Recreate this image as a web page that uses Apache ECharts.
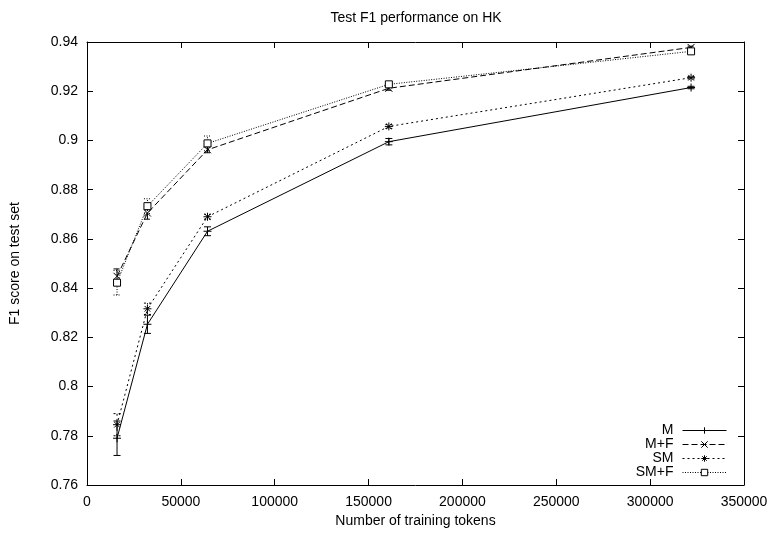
<!DOCTYPE html>
<html>
<head>
<meta charset="utf-8">
<script src="https://cdn.jsdelivr.net/npm/echarts@6/dist/echarts.min.js"></script>
<style>
html,body{margin:0;padding:0;background:#fff;}
#chart{width:772px;height:533px;}
</style>
</head>
<body>
<div id="chart"></div>
<script>
// ---- data ----
const xTokens   = [16000, 32200, 64200, 160800, 321800];
const xTicks    = [0, 50000, 100000, 150000, 200000, 250000, 300000, 350000];
const yTicks    = [0.76, 0.78, 0.8, 0.82, 0.84, 0.86, 0.88, 0.9, 0.92, 0.94];

const mScores   = [0.7790, 0.8253, 0.8631, 0.8995, 0.9215];
const mErr      = [0.0070, 0.0037, 0.0018, 0.0013, 0.0005];
const mfScores  = [0.8448, 0.8705, 0.8962, 0.9212, 0.9378];
const mfErr     = [0.0030, 0.0025, 0.0012, 0.0008, 0.0005];
const smScores  = [0.7845, 0.8316, 0.8690, 0.9057, 0.9255];
const smErr     = [0.0045, 0.0023, 0.0010, 0.0008, 0.0005];
const smfScores = [0.8422, 0.8733, 0.8988, 0.9228, 0.9362];
const smfErr    = [0.0050, 0.0030, 0.0030, 0.0010, 0.0008];

const seriesNames = ['M', 'M+F', 'SM', 'SM+F'];

// ---- styles ----
const FONT = 'Liberation Sans, Arial, Helvetica, sans-serif';
const dashes = {
  'M': null,
  'M+F': [6, 3],
  'SM': [2, 3],
  'SM+F': [1, 1.5]
};
const symbols = {
  'M': ['path://M0,5L10,5M5,0L5,10', 8, '#000'],
  'M+F': ['path://M0,0L10,10M10,0L0,10', 7, '#000'],
  'SM': ['path://M0,5L10,5M5,0L5,10M1.5,1.5L8.5,8.5M8.5,1.5L1.5,8.5', 8, '#000'],
  'SM+F': ['path://M0,0L10,0L10,10L0,10Z', 7, '#fff']
};

function lineSeries(name, ys) {
  return {
    type: 'line',
    name: name,
    data: xTokens.map((x, i) => [x, ys[i]]),
    symbol: symbols[name][0],
    symbolSize: symbols[name][1],
    showAllSymbol: true,
    lineStyle: { color: '#000', width: 1, type: dashes[name] || 'solid' },
    itemStyle: { color: symbols[name][2], borderColor: '#000', borderWidth: 1 },
    emphasis: { disabled: true },
    animation: false,
    z: 3
  };
}

function errSeries(name, ys, errs) {
  const dash = dashes[name];
  return {
    type: 'custom',
    name: name + ' error',
    data: xTokens.map((x, i) => [x, ys[i], errs[i]]),
    encode: { x: 0, y: 1 },
    silent: true,
    animation: false,
    z: 2,
    renderItem: function (params, api) {
      const x = api.value(0), y = api.value(1), e = api.value(2);
      const lo = api.coord([x, y - e]);
      const hi = api.coord([x, y + e]);
      const w = 3.5;
      const st = { stroke: '#000', lineWidth: 1, lineDash: dash || null, fill: null };
      return {
        type: 'group',
        children: [
          { type: 'line', shape: { x1: lo[0], y1: lo[1], x2: hi[0], y2: hi[1] }, style: st },
          { type: 'line', shape: { x1: lo[0] - w, y1: lo[1], x2: lo[0] + w, y2: lo[1] }, style: st },
          { type: 'line', shape: { x1: hi[0] - w, y1: hi[1], x2: hi[0] + w, y2: hi[1] }, style: st }
        ]
      };
    }
  };
}

const axisLine = { show: true, onZero: false, lineStyle: { color: '#000', width: 1 } };
const axisTick = { show: true, inside: true, length: 6, lineStyle: { color: '#000', width: 1 } };
const labelStyle = { color: '#000', fontSize: 14, fontFamily: FONT };

const xMin = xTicks[0], xMax = xTicks[xTicks.length - 1], xInt = xTicks[1] - xTicks[0];
const yMin = yTicks[0], yMax = yTicks[yTicks.length - 1], yInt = 0.02;

const chart = echarts.init(document.getElementById('chart'), null, { renderer: 'canvas' });
chart.setOption({
  backgroundColor: '#fff',
  animation: false,
  title: {
    text: 'Test F1 performance on HK',
    left: 416, top: 11, padding: 0,
    textAlign: 'center',
    textStyle: { color: '#000', fontSize: 14, fontWeight: 'normal', fontFamily: FONT }
  },
  grid: { left: 87, right: 28, top: 42, bottom: 44, containLabel: false },
  legend: {
    data: seriesNames,
    orient: 'vertical',
    align: 'right',
    right: 45,
    top: 423.5,
    itemWidth: 44,
    itemHeight: 8,
    itemGap: 0,
    padding: 0,
    selectedMode: false,
    lineStyle: { width: 1 },
    itemStyle: { borderWidth: 1 },
    textStyle: { color: '#000', fontSize: 14, fontFamily: FONT, lineHeight: 14, padding: [0, 4, 0, 0] }
  },
  xAxis: [
    {
      type: 'value', position: 'bottom', min: xMin, max: xMax, interval: xInt,
      name: 'Number of training tokens', nameLocation: 'middle', nameGap: 29,
      nameTextStyle: labelStyle,
      axisLine: axisLine, axisTick: axisTick,
      axisLabel: Object.assign({ margin: 10, formatter: v => String(v) }, labelStyle),
      splitLine: { show: false }
    },
    {
      type: 'value', position: 'top', min: xMin, max: xMax, interval: xInt,
      axisLine: axisLine, axisTick: axisTick,
      axisLabel: { show: false }, splitLine: { show: false }
    }
  ],
  yAxis: [
    {
      type: 'value', position: 'left', min: yMin, max: yMax, interval: yInt,
      name: 'F1 score on test set', nameLocation: 'middle', nameGap: 65, nameRotate: 90,
      nameTextStyle: labelStyle,
      axisLine: axisLine, axisTick: axisTick,
      axisLabel: Object.assign({ margin: 9, formatter: v => String(+v.toFixed(2)) }, labelStyle),
      splitLine: { show: false }
    },
    {
      type: 'value', position: 'right', min: yMin, max: yMax, interval: yInt,
      axisLine: axisLine, axisTick: axisTick,
      axisLabel: { show: false }, splitLine: { show: false }
    }
  ],
  series: [
    errSeries('M', mScores, mErr),
    errSeries('M+F', mfScores, mfErr),
    errSeries('SM', smScores, smErr),
    errSeries('SM+F', smfScores, smfErr),
    lineSeries('M', mScores),
    lineSeries('M+F', mfScores),
    lineSeries('SM', smScores),
    lineSeries('SM+F', smfScores)
  ]
});
</script>
</body>
</html>
